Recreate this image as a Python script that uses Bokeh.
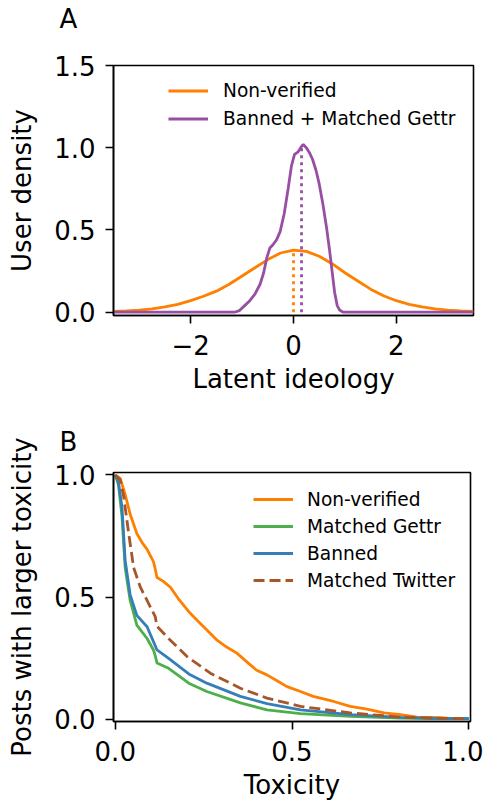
from bokeh.plotting import figure
from bokeh.models import (Range1d, FixedTicker, PrintfTickFormatter, CustomJSTickFormatter,
                          Legend, LegendItem, Title)
from bokeh.layouts import column
from bokeh.embed import file_html
from bokeh.resources import INLINE

FONT = "DejaVu Sans"

# ---------------- Panel A data: latent ideology densities ----------------
ideo_x_nonverified = [-3.5, -3.25, -3.0, -2.75, -2.5, -2.25, -2.0, -1.75, -1.5, -1.25, -1.0,
                      -0.75, -0.5, -0.25, 0.0, 0.25, 0.5, 0.75, 1.0, 1.25, 1.5, 1.75, 2.0,
                      2.25, 2.5, 2.75, 3.0, 3.25, 3.5]
ideo_y_nonverified = [0.005, 0.008, 0.013, 0.02, 0.032, 0.048, 0.07, 0.097, 0.128, 0.17, 0.22,
                      0.27, 0.32, 0.36, 0.378, 0.37, 0.34, 0.295, 0.24, 0.19, 0.14, 0.10, 0.07,
                      0.048, 0.032, 0.02, 0.013, 0.008, 0.005]

ideo_x_banned = [-3.5, -1.15, -1.05, -0.95, -0.85, -0.75, -0.65, -0.58, -0.52, -0.46, -0.40,
                 -0.33, -0.26, -0.18, -0.10, -0.04, 0.02, 0.09, 0.14, 0.19, 0.25, 0.31, 0.37,
                 0.44, 0.50, 0.57, 0.64, 0.70, 0.75, 0.80, 0.85, 0.90, 0.97, 3.5]
ideo_y_banned = [0.0, 0.0, 0.01, 0.04, 0.07, 0.11, 0.17, 0.24, 0.33, 0.39, 0.41,
                 0.44, 0.49, 0.60, 0.76, 0.89, 0.96, 0.975, 1.0, 1.02, 1.0, 0.97, 0.93,
                 0.86, 0.78, 0.66, 0.52, 0.38, 0.25, 0.12, 0.04, 0.012, 0.0, 0.0]

# means (dotted verticals)
mean_x = [0.0, 0.156]
mean_top = [0.378, 1.01]
mean_colors = ["#ff7f00", "#984ea3"]

# ---------------- Panel B data: CCDF of toxicity ----------------
tox_x_nonverified = [0, 0.014, 0.028, 0.042, 0.061, 0.075, 0.09, 0.108, 0.113, 0.118, 0.135,
                     0.156, 0.18, 0.208, 0.235, 0.26, 0.288, 0.315, 0.344, 0.382, 0.40, 0.429,
                     0.46, 0.486, 0.524, 0.56, 0.618, 0.665, 0.712, 0.76, 0.807, 0.854, 0.90,
                     0.95, 1.0]
tox_y_nonverified = [1.0, 0.986, 0.92, 0.84, 0.76, 0.725, 0.695, 0.645, 0.615, 0.58, 0.565,
                     0.54, 0.49, 0.44, 0.40, 0.364, 0.323, 0.295, 0.27, 0.222, 0.20, 0.181,
                     0.155, 0.133, 0.113, 0.093, 0.072, 0.052, 0.041, 0.025, 0.018, 0.008, 0.007,
                     0.003, 0.0015]

tox_x_gettr = [0, 0.009, 0.019, 0.028, 0.042, 0.061, 0.09, 0.108, 0.113, 0.118, 0.151, 0.208,
               0.259, 0.354, 0.429, 0.524, 0.665, 0.807, 0.9, 1.0]
tox_y_gettr = [1.0, 0.96, 0.83, 0.62, 0.487, 0.385, 0.33, 0.283, 0.26, 0.23, 0.208, 0.147,
               0.113, 0.066, 0.038, 0.022, 0.011, 0.004, 0.002, 0.0015]

tox_x_banned = [0, 0.009, 0.019, 0.028, 0.042, 0.061, 0.09, 0.108, 0.113, 0.118, 0.151, 0.208,
                0.259, 0.354, 0.429, 0.524, 0.665, 0.807, 0.9, 1.0]
tox_y_banned = [1.0, 0.97, 0.867, 0.65, 0.51, 0.425, 0.378, 0.317, 0.30, 0.283, 0.249, 0.185,
                0.147, 0.093, 0.063, 0.038, 0.018, 0.007, 0.003, 0.0015]

tox_x_twitter = [0, 0.014, 0.024, 0.038, 0.052, 0.071, 0.099, 0.113, 0.118, 0.146, 0.203,
                 0.269, 0.354, 0.429, 0.524, 0.665, 0.807, 0.9, 1.0]
tox_y_twitter = [1.0, 0.98, 0.91, 0.76, 0.62, 0.54, 0.46, 0.42, 0.38, 0.337, 0.256,
                 0.188, 0.126, 0.086, 0.052, 0.025, 0.008, 0.004, 0.0015]

ideo_xticks = [-2, 0, 2]
ideo_yticks = [0, 0.5, 1.0, 1.5]
tox_xticks = [0, 0.5, 1.0]
tox_yticks = [0, 0.5, 1.0]

LW = 2.8
TICK_FS = "26px"
LEG_FS = "18.6px"


def style(p, xticks, yticks, xfmt, yfmt, xlabel, ylabel):
    p.grid.visible = False
    p.outline_line_color = "black"
    p.outline_line_width = 1.6
    p.outline_line_alpha = 1.0
    p.background_fill_color = "white"
    p.border_fill_color = "white"
    p.xaxis.ticker = FixedTicker(ticks=xticks)
    p.yaxis.ticker = FixedTicker(ticks=yticks)
    p.xaxis.formatter = xfmt
    p.yaxis.formatter = yfmt
    for ax in (p.xaxis[0], p.yaxis[0]):
        ax.axis_line_color = "black"
        ax.axis_line_width = 1.6
        ax.major_tick_line_color = "black"
        ax.major_tick_line_width = 1.6
        ax.major_tick_in = 0
        ax.major_tick_out = 8
        ax.minor_tick_line_color = None
        ax.major_label_text_font = FONT
        ax.major_label_text_font_size = TICK_FS
        ax.major_label_text_color = "black"
        ax.axis_label_text_font = FONT
        ax.axis_label_text_font_size = TICK_FS
        ax.axis_label_text_font_style = "normal"
        ax.axis_label_text_color = "black"
    p.xaxis.axis_label = xlabel
    p.yaxis.axis_label = ylabel
    p.xaxis.major_label_standoff = 11
    p.xaxis.axis_label_standoff = 6
    p.yaxis.major_label_standoff = 10
    p.yaxis.axis_label_standoff = 14


def panel_letter(p, letter, spacer):
    # spacer (nearest the frame) then the letter, outermost
    p.add_layout(Title(text=" ", text_font_size="1px", standoff=spacer), "above")
    p.add_layout(Title(text=letter, align="left", offset=-54, standoff=0,
                       text_font=FONT, text_font_size=TICK_FS, text_font_style="normal",
                       text_color="black", vertical_align="bottom"), "above")


# ---------------- Panel A ----------------
p1 = figure(frame_width=360, frame_height=250,
            x_range=Range1d(-3.5, 3.5), y_range=Range1d(-0.02, 1.5),
            output_backend="svg", toolbar_location=None,
            min_border_left=113, min_border_right=10, min_border_top=65, min_border_bottom=85)
style(p1, ideo_xticks, ideo_yticks,
      CustomJSTickFormatter(code="return (tick < 0 ? '\\u2212' : '') + Math.abs(tick).toFixed(0);"),
      PrintfTickFormatter(format="%.1f"),
      "Latent ideology", "User density")

ra1 = p1.line(ideo_x_nonverified, ideo_y_nonverified, line_color="#ff7f00", line_width=LW)
ra2 = p1.line(ideo_x_banned, ideo_y_banned, line_color="#984ea3", line_width=LW)
p1.segment(x0=mean_x, y0=[0, 0], x1=mean_x, y1=mean_top, line_color=mean_colors,
           line_width=LW, line_dash="3 4")

leg1 = Legend(items=[LegendItem(label="Non-verified", renderers=[ra1]),
                     LegendItem(label="Banned + Matched Gettr", renderers=[ra2])],
              location=(55, 184), border_line_color=None, background_fill_alpha=0,
              padding=0, margin=0, spacing=3, glyph_width=40, glyph_height=25,
              label_height=25, label_standoff=15, label_text_font=FONT,
              label_text_font_size=LEG_FS, label_text_color="black")
p1.add_layout(leg1)
panel_letter(p1, "A", 29)

# ---------------- Panel B ----------------
p2 = figure(frame_width=357, frame_height=249,
            x_range=Range1d(-0.005, 1.005), y_range=Range1d(-0.01, 1.01),
            output_backend="svg", toolbar_location=None,
            min_border_left=113, min_border_right=13, min_border_top=72, min_border_bottom=85)
style(p2, tox_xticks, tox_yticks,
      PrintfTickFormatter(format="%.1f"), PrintfTickFormatter(format="%.1f"),
      "Toxicity", "Posts with larger toxicity")

rb1 = p2.line(tox_x_nonverified, tox_y_nonverified, line_color="#ff7f00", line_width=LW)
rb2 = p2.line(tox_x_gettr, tox_y_gettr, line_color="#4daf4a", line_width=LW)
rb3 = p2.line(tox_x_banned, tox_y_banned, line_color="#377eb8", line_width=LW)
rb4 = p2.line(tox_x_twitter, tox_y_twitter, line_color="#a65628", line_width=LW, line_dash="11 5")

leg2 = Legend(items=[LegendItem(label="Non-verified", renderers=[rb1]),
                     LegendItem(label="Matched Gettr", renderers=[rb2]),
                     LegendItem(label="Banned", renderers=[rb3]),
                     LegendItem(label="Matched Twitter", renderers=[rb4])],
              location=(140, 129), border_line_color=None, background_fill_alpha=0,
              padding=0, margin=0, spacing=3, glyph_width=40, glyph_height=24,
              label_height=24, label_standoff=14, label_text_font=FONT,
              label_text_font_size=LEG_FS, label_text_color="black")
p2.add_layout(leg2)
panel_letter(p2, "B", 13)

layout = column(p1, p2)
open("out.html", "w").write(file_html(layout, INLINE))
